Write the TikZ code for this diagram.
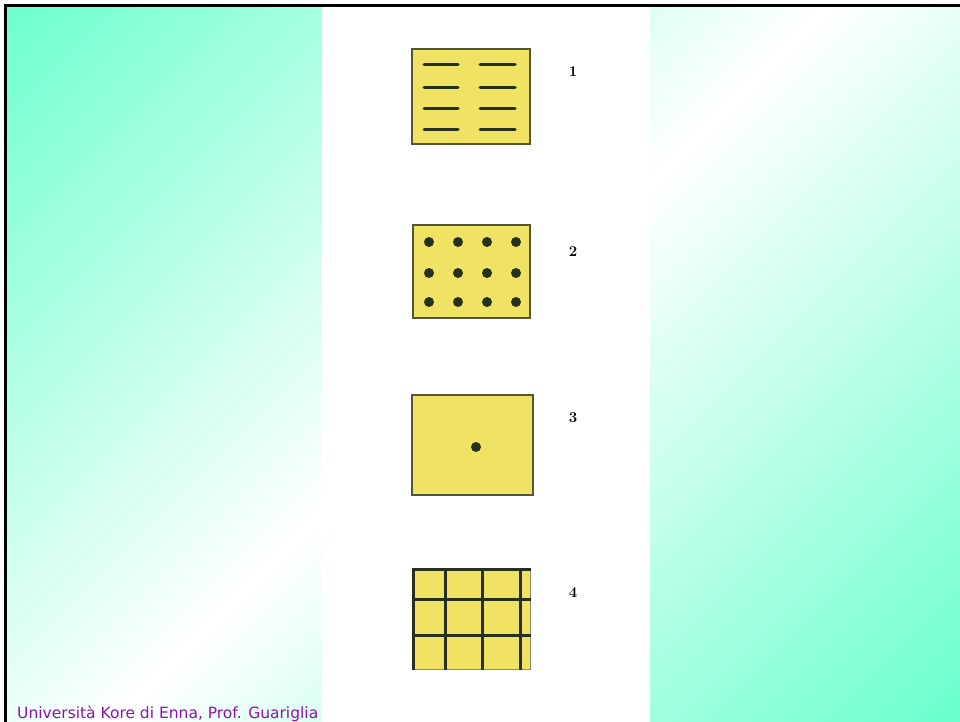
\documentclass[tikz,border=0pt]{standalone}
\usepackage{fontspec}
\newfontfamily\uifont{DejaVu Sans}
\usepackage{graphicx}
\definecolor{mint}{RGB}{100,255,205}
\definecolor{boxyellow}{RGB}{240,226,98}
\definecolor{boxedge}{RGB}{85,85,60}
\definecolor{ink}{RGB}{38,48,30}
\definecolor{purp}{RGB}{140,20,170}
\begin{document}
\begin{tikzpicture}[x=1pt,y=-1pt,
 panel/.style={fill=boxyellow,draw=boxedge,line width=1.8pt},
 stroke/.style={draw=ink,line width=3pt,line cap=round},
 grid/.style={draw=ink,line width=3pt},
 thin edge/.style={draw=boxedge!70,line width=1pt},
 dotmark/.style={fill=ink},
 num/.style={font=\fontsize{15}{15}\selectfont\bfseries,inner sep=0pt}]
\useasboundingbox (0,0) rectangle (960,722);
\fill[white] (0,0) rectangle (960,722);
\begin{scope}
  \clip (7,7) rectangle (960,722);
  \begin{scope}[transform canvas={shift={(483,352)},rotate=-45}]
    \shade[left color=mint, right color=mint, middle color=white] (-615,-720) rectangle (615,720);
  \end{scope}
\end{scope}
\fill[white] (322,7) rectangle (650,722);
\fill[black] (4,4) rectangle (960,7);
\fill[black] (4,4) rectangle (7,722);
% box 1
\draw[panel] (412,49) rectangle (530,144);
\foreach \yy in {65,88,109,130}{
  \draw[stroke] (424,\yy) -- (458,\yy);
  \draw[stroke] (480,\yy) -- (515,\yy);
}
\node[num] (n1) at (573,72) {1};
% box 2
\draw[panel] (413,225) rectangle (530,318);
\foreach \yy in {242,273,302}{
  \foreach \xx in {429,458,487,516}{
    \fill[dotmark] (\xx,\yy) circle[radius=5];
  }
}
\node[num] (n2) at (573,252) {2};
% box 3
\draw[panel] (412,395) rectangle (533,495);
\fill[dotmark] (476,447) circle[radius=5];
\node[num] (n3) at (573,418) {3};
% box 4
\fill[boxyellow] (412,568) rectangle (531,670);
\draw[thin edge] (530,568) -- (530,670);
\draw[thin edge] (412,669) -- (531,669);
\foreach \xx in {413.5,445,482,520}{
  \draw[grid] (\xx,568) -- (\xx,670);
}
\foreach \yy in {569.5,599,635}{
  \draw[grid] (412,\yy) -- (531,\yy);
}
\node[num] (n4) at (573,593) {4};
% footer
\node[anchor=base west, inner sep=0pt, text=purp] (footer) at (17,718)
  {\resizebox{301pt}{!}{\uifont Università Kore di Enna, Prof. Guariglia}};
\end{tikzpicture}
\end{document}
